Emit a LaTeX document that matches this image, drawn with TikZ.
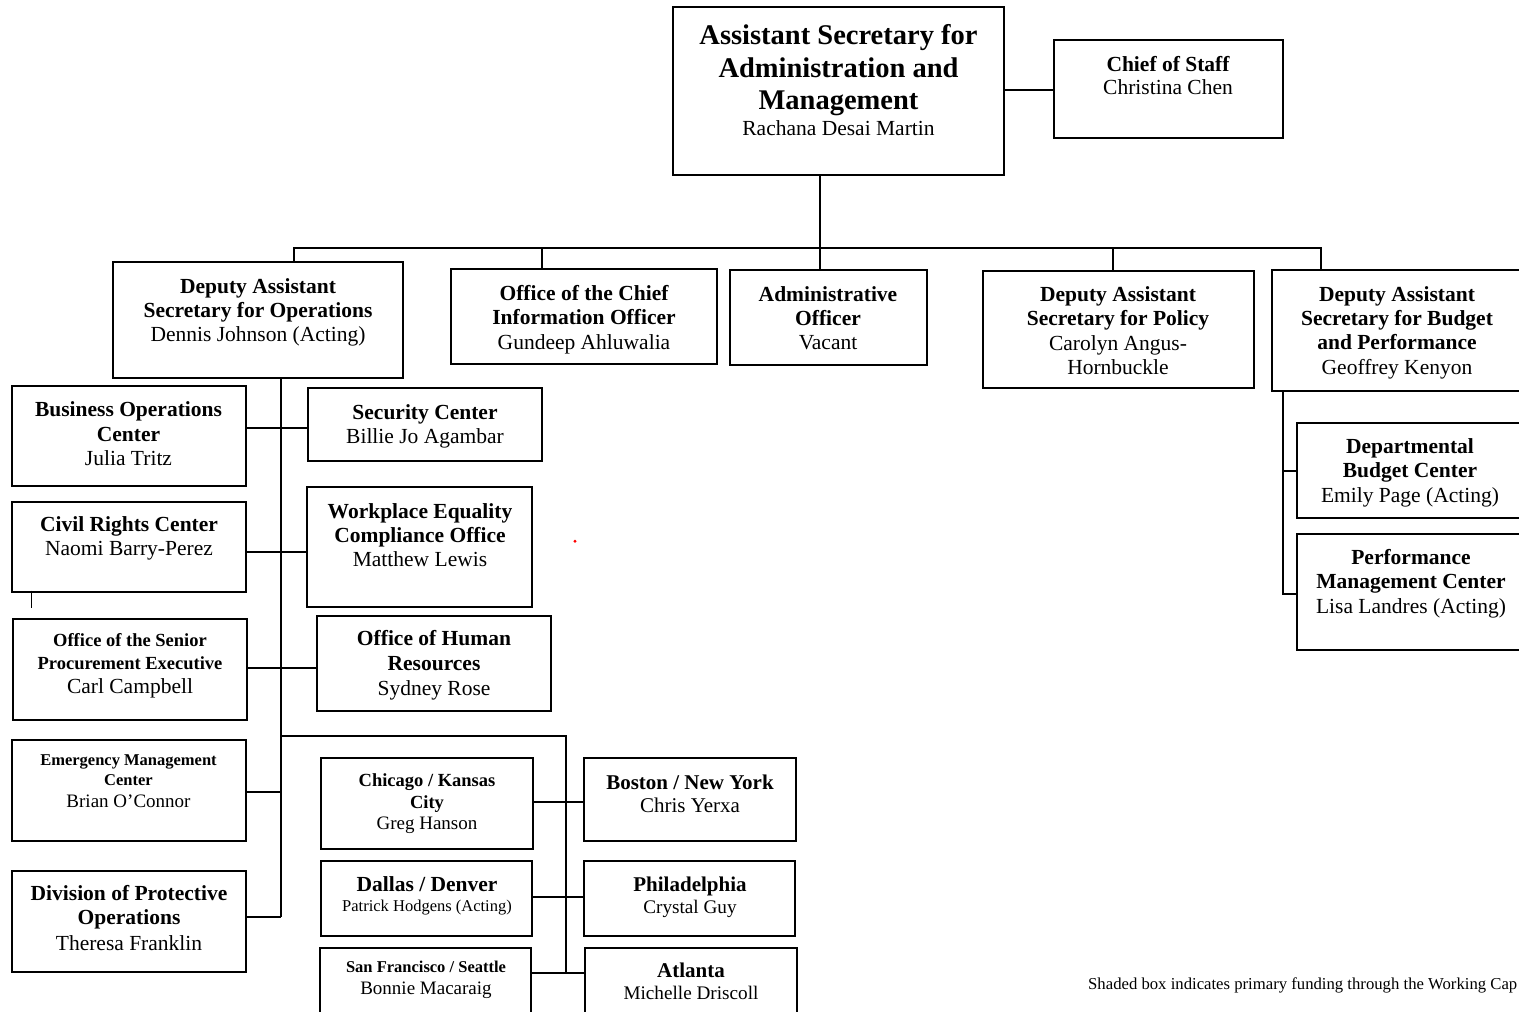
\documentclass[tikz,border=0pt]{standalone}
\usepackage{fontspec}
\setmainfont{Liberation Serif}
\newcounter{tlc}
\newcommand\Bf[1]{\fontsize{#1}{#1}\selectfont\bfseries}
\newcommand\Rf[1]{\fontsize{#1}{#1}\selectfont}
\newcommand\tl[4]{\stepcounter{tlc}\node[txt,font=#3] (tl\arabic{tlc}) at (#1,#2) {#4};}
\newcommand\bx[5]{\node[orgbox,minimum width={(#4-#2)*1pt},minimum height={(#5-#3)*1pt}] (#1) at ({(#2+#4)/2},{(#3+#5)/2}) {};}
\tikzset{
  orgbox/.style={draw, line width=1.7pt, inner sep=0pt, outer sep=0pt},
  txt/.style={anchor=base, inner sep=0pt},
  conn/.style={line width=1.7pt},
}
\begin{document}
\begin{tikzpicture}[x=1pt,y=-1pt]
\useasboundingbox (0,0) rectangle (1519,1012);
\clip (0,0) rectangle (1519,1012);
% boxes
\bx{top}{673}{7}{1004}{175}
\bx{cos}{1054}{40}{1283}{138}
\bx{ops}{113}{262}{403}{378}
\bx{ocio}{451}{269}{717}{364}
\bx{admin}{730}{270}{927}{365}
\bx{policy}{983}{271}{1254}{388}
\bx{budget}{1272}{270}{1523}{391}
\bx{dbc}{1297}{423}{1523}{518}
\bx{pmc}{1297}{534}{1523}{650}
\bx{biz}{12}{386}{246}{486}
\bx{sec}{308}{388}{542}{461}
\bx{civ}{12}{502}{246}{592}
\bx{weco}{307}{487}{532}{607}
\bx{ospe}{13}{619}{247}{720}
\bx{ohr}{317}{616}{551}{711}
\bx{emc}{12}{740}{246}{841}
\bx{dpo}{12}{871}{246}{972}
\bx{chi}{321}{758}{533}{849}
\bx{bos}{584}{758}{796}{841}
\bx{dal}{321}{861}{532}{936}
\bx{phl}{584}{861}{795}{936}
\bx{sf}{320}{948}{531}{1030}
\bx{atl}{585}{948}{797}{1030}
% texts
\tl{838.5}{44}{\Bf{28.5}}{Assistant Secretary for}
\tl{838.5}{77}{\Bf{28.5}}{Administration and}
\tl{838.5}{109}{\Bf{28.5}}{Management}
\tl{838.5}{135.5}{\Rf{21.5}}{Rachana Desai Martin}
\tl{1168}{71}{\Bf{21.5}}{Chief of Staff}
\tl{1168}{94.5}{\Rf{21.5}}{Christina Chen}
\tl{258}{293}{\Bf{21.5}}{Deputy Assistant}
\tl{258}{317}{\Bf{21.5}}{Secretary for Operations}
\tl{258}{341}{\Rf{21.5}}{Dennis Johnson (Acting)}
\tl{584}{300}{\Bf{21.5}}{Office of the Chief}
\tl{584}{324}{\Bf{21.5}}{Information Officer}
\tl{584}{349}{\Rf{21.5}}{Gundeep Ahluwalia}
\tl{828}{301}{\Bf{21.5}}{Administrative}
\tl{828}{325}{\Bf{21.5}}{Officer}
\tl{828}{349}{\Rf{21.5}}{Vacant}
\tl{1118}{301}{\Bf{21.5}}{Deputy Assistant}
\tl{1118}{325}{\Bf{21.5}}{Secretary for Policy}
\tl{1118}{350}{\Rf{21.5}}{Carolyn Angus-}
\tl{1118}{374}{\Rf{21.5}}{Hornbuckle}
\tl{1397}{301}{\Bf{21.5}}{Deputy Assistant}
\tl{1397}{325}{\Bf{21.5}}{Secretary for Budget}
\tl{1397}{349}{\Bf{21.5}}{and Performance}
\tl{1397}{374}{\Rf{21.5}}{Geoffrey Kenyon}
\tl{1410}{453}{\Bf{21.5}}{Departmental}
\tl{1410}{477}{\Bf{21.5}}{Budget Center}
\tl{1410}{502}{\Rf{21.5}}{Emily Page (Acting)}
\tl{1411}{564}{\Bf{21.5}}{Performance}
\tl{1411}{588}{\Bf{21.5}}{Management Center}
\tl{1411}{613}{\Rf{21.5}}{Lisa Landres (Acting)}
\tl{128.5}{416.7}{\Bf{21.5}}{Business Operations}
\tl{128.5}{441}{\Bf{21.5}}{Center}
\tl{128.5}{465.7}{\Rf{21.5}}{Julia Tritz}
\tl{425}{419}{\Bf{21.5}}{Security Center}
\tl{425}{443}{\Rf{21.5}}{Billie Jo Agambar}
\tl{129}{531.7}{\Bf{21.5}}{Civil Rights Center}
\tl{129}{555.7}{\Rf{21.5}}{Naomi Barry-Perez}
\tl{420}{518}{\Bf{21.5}}{Workplace Equality}
\tl{420}{542}{\Bf{21.5}}{Compliance Office}
\tl{420}{566}{\Rf{21.5}}{Matthew Lewis}
\tl{130}{646}{\Bf{18.5}}{Office of the Senior}
\tl{130}{669}{\Bf{18.5}}{Procurement Executive}
\tl{130}{693}{\Rf{21.5}}{Carl Campbell}
\tl{434}{645}{\Bf{21.5}}{Office of Human}
\tl{434}{670}{\Bf{21.5}}{Resources}
\tl{434}{695}{\Rf{21.5}}{Sydney Rose}
\tl{128.5}{765.7}{\Bf{16.5}}{Emergency Management}
\tl{128.5}{785}{\Bf{16.5}}{Center}
\tl{128.5}{807.3}{\Rf{19}}{Brian O’Connor}
\tl{129}{900}{\Bf{21.5}}{Division of Protective}
\tl{129}{924}{\Bf{21.5}}{Operations}
\tl{129}{950}{\Rf{21.5}}{Theresa Franklin}
\tl{427}{786}{\Bf{18.5}}{Chicago / Kansas}
\tl{427}{808}{\Bf{18.5}}{City}
\tl{427}{829.3}{\Rf{19}}{Greg Hanson}
\tl{690}{789}{\Bf{21}}{Boston / New York}
\tl{690}{812.7}{\Rf{21}}{Chris Yerxa}
\tl{427}{891.7}{\Bf{21.5}}{Dallas / Denver}
\tl{427}{911.7}{\Rf{16.5}}{Patrick Hodgens (Acting)}
\tl{690}{891.7}{\Bf{21}}{Philadelphia}
\tl{690}{913.5}{\Rf{19.2}}{Crystal Guy}
\tl{426}{972.3}{\Bf{16.5}}{San Francisco / Seattle}
\tl{426}{994}{\Rf{19}}{Bonnie Macaraig}
\tl{691}{977.3}{\Bf{21}}{Atlanta}
\tl{691}{999.3}{\Rf{19.2}}{Michelle Driscoll}
\node[anchor=base west, inner sep=0pt, font=\Rf{16.7}] (note) at (1088,989) {Shaded box indicates primary funding through the Working Cap};
% connectors
\draw[conn] (top.east |- 0,90) -- (cos.west |- 0,90);
\coordinate (bus) at (820,248);
\coordinate (busL) at (294,248);
\coordinate (busR) at (1321,248);
\coordinate (dOCIO) at (542,248);
\coordinate (dPol) at (1113,248);
\draw[conn] (top.south -| bus) -- (bus);
\draw[conn] (ops.north -| busL) -- (busL) -- (busR) -- (budget.north -| busR);
\draw[conn] (dOCIO) -- (ocio.north -| dOCIO);
\draw[conn] (bus) -- (admin.north -| bus);
\draw[conn] (dPol) -- (policy.north -| dPol);
\coordinate (opsv) at (281,917.3);
\draw[conn] (ops.south -| opsv) -- (opsv);
\draw[conn] (biz.east |- 0,428) -- (sec.west |- 0,428);
\draw[conn] (civ.east |- 0,551.7) -- (weco.west |- 0,551.7);
\draw[conn] (ospe.east |- 0,668) -- (ohr.west |- 0,668);
\coordinate (emcj) at (281,791.7);
\draw[conn] (emc.east |- emcj) -- (emcj);
\draw[conn] (dpo.east |- opsv) -- (opsv);
\coordinate (regT) at (281,735.7);
\coordinate (regV) at (566,735.7);
\coordinate (regB) at (566,973.3);
\draw[conn] (regT) -- (regV) -- (regB);
\draw[conn] (chi.east |- 0,801.7) -- (bos.west |- 0,801.7);
\draw[conn] (dal.east |- 0,897) -- (phl.west |- 0,897);
\draw[conn] (sf.east |- regB) -- (atl.west |- regB);
\coordinate (bv) at (1282.7,594.3);
\draw[conn] (budget.south -| bv) -- (bv) -- (pmc.west |- bv);
\draw[conn] (bv |- 0,471) -- (dbc.west |- 0,471);
\draw[line width=1.2pt] (31.7,590.7) -- (31.7,608.3);
\fill[red] (575,541.3) circle (1.6);
\end{tikzpicture}
\end{document}
